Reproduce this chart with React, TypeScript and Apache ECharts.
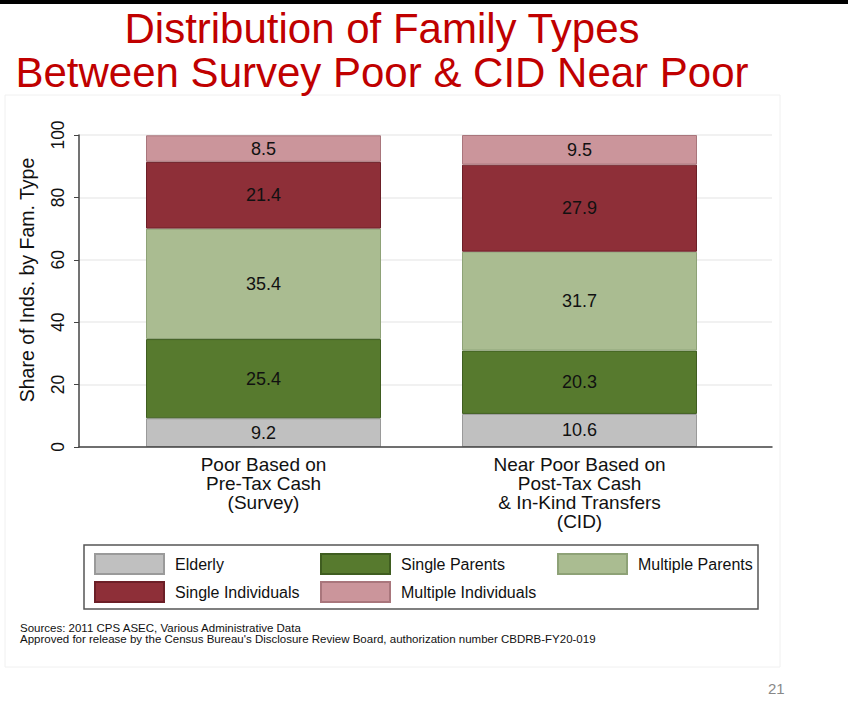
import React, { useEffect, useRef } from "react";
import * as echarts from "echarts";

const categories = [
  "Poor Based on\nPre-Tax Cash\n(Survey)",
  "Near Poor Based on\nPost-Tax Cash\n& In-Kind Transfers\n(CID)",
];
const seriesNames = [
  "Elderly",
  "Single Parents",
  "Multiple Parents",
  "Single Individuals",
  "Multiple Individuals",
];
const elderly = [9.2, 10.6];
const singleParents = [25.4, 20.3];
const multipleParents = [35.4, 31.7];
const singleIndividuals = [21.4, 27.9];
const multipleIndividuals = [8.5, 9.5];
const seriesValues = [elderly, singleParents, multipleParents, singleIndividuals, multipleIndividuals];
const yTicks = { min: 0, max: 100, interval: 20 };

const fills = ["#c0c0c0", "#577a2e", "#aabc91", "#8e2f38", "#cb959b"];
const borders = ["#9a9a9a", "#3f5d20", "#8ea277", "#6c1f27", "#a9767c"];

const FONT = "'Liberation Sans', Arial, Helvetica, sans-serif";

// legend layout: [left, top]
const legendPos: [number, number][] = [
  [94, 553],
  [320, 553],
  [557, 553],
  [94, 581],
  [320, 581],
];

export default function App() {
  const ref = useRef<HTMLDivElement>(null);
  useEffect(() => {
    document.body.style.margin = "0";
    const chart = echarts.init(ref.current!, null, { renderer: "svg" });
    const option: any = {
      animation: false,
      backgroundColor: "#ffffff",
      textStyle: { fontFamily: FONT },
      title: {
        text: "Distribution of Family Types\nBetween Survey Poor & CID Near Poor",
        left: 382,
        top: 6,
        textAlign: "center",
        padding: 0,
        textStyle: {
          fontFamily: FONT,
          fontSize: 42,
          fontWeight: "normal",
          color: "#c00000",
          lineHeight: 44,
        },
      },
      grid: [
        { left: 79, right: 76, top: 135, bottom: 270 },
        { left: 105.5, right: 110.5, top: 135, bottom: 270 },
      ],
      xAxis: [
        {
          gridIndex: 0,
          type: "category",
          data: categories,
          z: 10,
          axisLine: { show: true, lineStyle: { color: "#444", width: 1.5 } },
          axisTick: { show: false },
          axisLabel: { show: false },
          splitLine: { show: false },
        },
        {
          gridIndex: 1,
          type: "category",
          data: categories,
          axisLine: { show: false },
          axisTick: { show: false },
          axisLabel: {
            interval: 0,
            margin: 8,
            fontFamily: FONT,
            fontSize: 19,
            lineHeight: 19,
            color: "#111",
          },
        },
      ],
      yAxis: [
        {
          gridIndex: 0,
          type: "value",
          min: yTicks.min,
          max: yTicks.max,
          interval: yTicks.interval,
          name: "Share of Inds. by Fam. Type",
          nameLocation: "middle",
          nameRotate: 90,
          nameGap: 42,
          nameTextStyle: {
            fontFamily: FONT,
            fontSize: 19.5,
            color: "#111",
            padding: [0, 0, 0, 22],
          },
          axisLine: { show: true, lineStyle: { color: "#444", width: 1.5 } },
          axisTick: { show: true, length: 5, lineStyle: { color: "#444" } },
          axisLabel: {
            rotate: 90,
            margin: 12,
            fontFamily: FONT,
            fontSize: 17.5,
            color: "#111",
          },
          splitLine: { show: true, lineStyle: { color: "#ececec", width: 1.5 } },
        },
        {
          gridIndex: 1,
          type: "value",
          min: yTicks.min,
          max: yTicks.max,
          show: false,
          splitLine: { show: false },
        },
      ],
      legend: seriesNames.map((n, i) => ({
        data: [n],
        left: legendPos[i][0],
        top: legendPos[i][1],
        padding: 0,
        icon: "rect",
        itemWidth: 69,
        itemHeight: 20,
        selectedMode: false,
        textStyle: {
          fontFamily: FONT,
          fontSize: 16,
          color: "#111",
          padding: [0, 0, 0, 6],
        },
      })),
      series: seriesNames.map((n, i) => ({
        name: n,
        type: "bar",
        stack: "total",
        xAxisIndex: 1,
        yAxisIndex: 1,
        barWidth: 235,
        data: seriesValues[i],
        itemStyle: { color: fills[i], borderColor: borders[i], borderWidth: 1 },
        label: {
          show: true,
          position: "inside",
          fontFamily: FONT,
          fontSize: 18,
          color: "#111",
          formatter: (p: any) => Number(p.value).toFixed(1),
        },
      })),
      graphic: [
        {
          type: "rect",
          z: -10,
          shape: { x: 0, y: 0, width: 848, height: 4 },
          style: { fill: "#000" },
        },
        {
          type: "rect",
          z: -10,
          shape: { x: 5, y: 95, width: 775, height: 572 },
          style: { fill: "none", stroke: "#f0f0f0", lineWidth: 1 },
        },
        {
          type: "rect",
          z: -5,
          shape: { x: 84, y: 545, width: 674, height: 64 },
          style: { fill: "#fff", stroke: "#555", lineWidth: 1.5 },
        },
        {
          type: "text",
          left: 20,
          top: 622,
          style: {
            text:
              "Sources: 2011 CPS ASEC, Various Administrative Data\nApproved for release by the Census Bureau's Disclosure Review Board, authorization number CBDRB-FY20-019",
            font: `11.5px ${FONT}`,
            lineHeight: 11,
            fill: "#111",
          },
        },
        {
          type: "text",
          left: 768,
          top: 681,
          style: { text: "21", font: `15px ${FONT}`, fill: "#888" },
        },
      ],
    };
    chart.setOption(option);
    return () => chart.dispose();
  }, []);
  return <div ref={ref} style={{ width: 848, height: 717 }} />;
}
